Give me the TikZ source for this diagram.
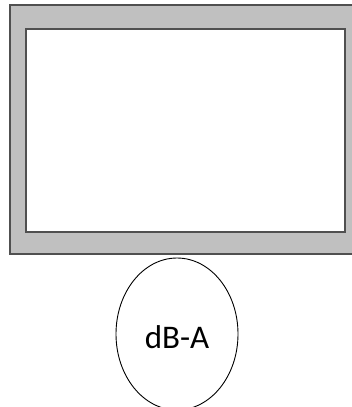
\documentclass[tikz,border=0pt]{standalone}
\usepackage{fontspec}
\setmainfont{Carlito}
\usetikzlibrary{shapes.geometric}
\definecolor{panelgray}{RGB}{192,192,192}
\definecolor{edgegray}{RGB}{80,80,80}
\tikzset{
  outerpanel/.style={fill=panelgray, draw=edgegray, line width=2pt},
  innerpanel/.style={fill=white, draw=edgegray, line width=2pt},
  label ellipse/.style={ellipse, draw=black, line width=0.9pt, fill=white,
    minimum width=122pt, minimum height=152pt, inner sep=0pt,
    text height=28pt, text depth=0pt,
    font=\fontsize{33}{36}\selectfont}
}
\begin{document}
\begin{tikzpicture}[x=1pt, y=-1pt]
  \useasboundingbox (0,0) rectangle (352,407);
  \clip (0,0) rectangle (352,407);
  \fill[white] (0,0) rectangle (352,407);
  \draw[outerpanel] (10,5) rectangle (362,254);
  \draw[innerpanel] (26,29) rectangle (345,232);
  \node[label ellipse] (dba) at (177,334) {dB-A};
\end{tikzpicture}
\end{document}
